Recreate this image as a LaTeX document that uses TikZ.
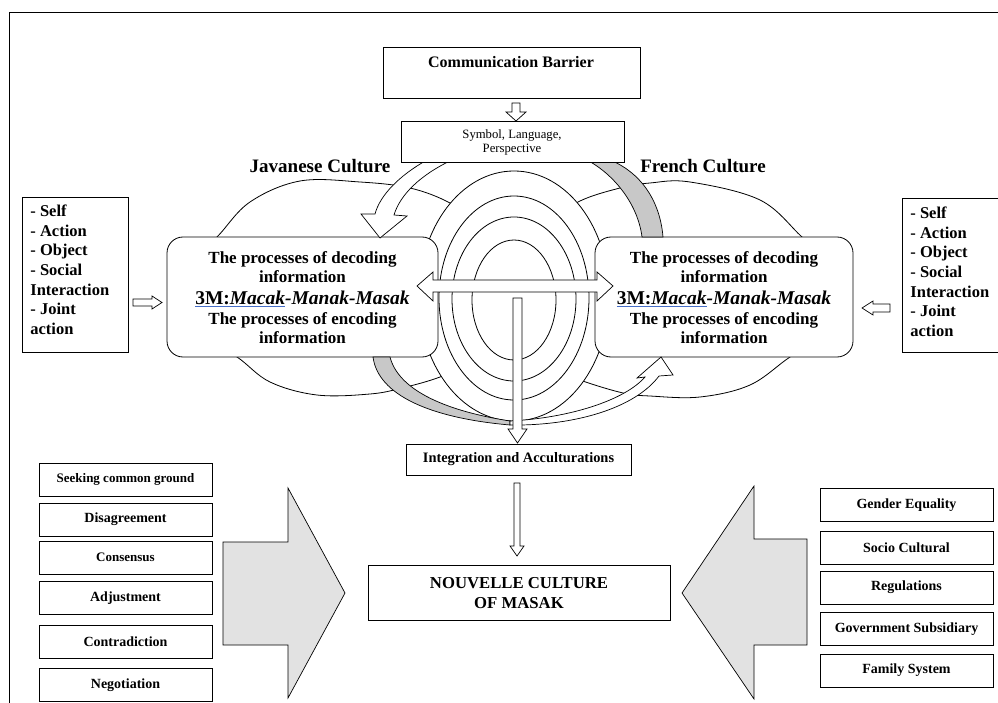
\documentclass[tikz,border=0pt]{standalone}
\usepackage{fontspec}
\setmainfont{Liberation Serif}
\usetikzlibrary{calc}
\definecolor{ulblue}{RGB}{70,110,200}
\definecolor{bigarrow}{RGB}{226,226,226}
\definecolor{bandgrey}{RGB}{200,200,200}
\newcommand\fs[1]{\fontsize{#1}{#1}\selectfont}
\newcommand\blueul[1]{\textcolor{ulblue}{\underline{\textcolor{black}{#1}}}}
\begin{document}
\begin{tikzpicture}[x=1pt,y=-1pt,line width=0.8pt,
  box/.style={draw, fill=white, inner sep=0pt, line width=0.8pt},
  rbox/.style={box, rounded corners=16pt},
  lbl/.style={inner sep=0pt, font=\bfseries},
  hollow/.style={draw, fill=white, line width=0.7pt, line join=miter},
  ring/.style={draw, line width=0.8pt},
  arc/.style={draw, line width=0.8pt},
  listtxt/.style={inner sep=0pt, anchor=base west, font=\bfseries\fs{16.5}},
  ptxt/.style={inner sep=0pt, anchor=base, font=\bfseries\fs{17}},
  mtxt/.style={inner sep=0pt, anchor=base, font=\bfseries\fs{19.5}},
  smallbox/.style={box, minimum width=173pt, minimum height=33pt, font=\bfseries\fs{14}},
]
\useasboundingbox (0,0) rectangle (998,703);
% frame
\draw[line width=0.9pt] (998,12) -- (9,12) -- (9,703);

% top boxes
\node[box, minimum width=257pt, minimum height=51pt] (cb) at (511.5,72.5) {};
\node[lbl, font=\bfseries\fs{16}] (cbt) at (511,62) {Communication Barrier};
\draw[hollow] (512,103) -- (520,103) -- (520,112) -- (526,112) -- (516,121) -- (506,112) -- (512,112) -- cycle;

% big ellipse arcs
\draw[arc] plot[smooth, tension=0.6] coordinates {(190,262) (217,237) (250,202) (300,181) (360,182) (410,188) (450,203) (480,225)};
\draw[arc] plot[smooth, tension=0.6] coordinates {(205,340) (237,357) (270,382) (317,395) (370,394) (402,388) (440,377) (470,362)};
\draw[arc] plot[smooth, tension=0.6] coordinates {(830,262) (802,237) (760,200) (690,182) (650,183) (620,188) (580,201) (550,222)};
\draw[arc] plot[smooth, tension=0.6] coordinates {(820,340) (790,357) (750,385) (700,397) (650,396) (623,393) (580,380) (555,368)};

% rings
\draw[ring, fill=white] (514,296) ellipse [x radius=95pt, y radius=125pt];
\draw[ring] (514,298) ellipse [x radius=75pt, y radius=102pt];
\draw[ring] (514,299) ellipse [x radius=62pt, y radius=82pt];
\draw[ring] (514,300) ellipse [x radius=42pt, y radius=60pt];

% rounded process boxes
\node[rbox, minimum width=271pt, minimum height=120pt] (lb) at (302.5,297) {};
\node[rbox, minimum width=258pt, minimum height=120pt] (rb) at (724,297) {};

% curved arrows
\draw[hollow] (427,160) .. controls (400,175) and (380,195) .. (375,214) -- (361,214) -- (380,238) -- (407,216) -- (394,215) .. controls (400,195) and (420,175) .. (452,160) -- cycle;
\draw[draw, fill=bandgrey, line width=0.7pt] (587,160) .. controls (615,175) and (638,205) .. (642,237) -- (663,237) .. controls (660,200) and (640,172) .. (610,160) -- cycle;
\draw[draw, fill=bandgrey, line width=0.7pt] (373,357) .. controls (378,395) and (430,418) .. (510,425) -- (510,421) .. controls (440,410) and (398,388) .. (390,357) -- cycle;
\draw[hollow] (510,421) .. controls (570,418) and (625,400) .. (645,377) -- (637,378) -- (661,357) -- (673,375) -- (659,376) .. controls (635,408) and (575,426) .. (510,425) -- cycle;

% symbol box
\node[box, minimum width=223pt, minimum height=41pt] (sb) at (512.5,141.5) {};
\node[inner sep=0pt, font=\fs{12.7}] (sb1) at (512,135) {Symbol, Language,};
\node[inner sep=0pt, font=\fs{12.7}] (sb2) at (512,150) {Perspective};

% culture titles
\node[lbl, font=\bfseries\fs{19}] (jav) at (320,166) {Javanese Culture};
\node[lbl, font=\bfseries\fs{19}] (fre) at (703,166) {French Culture};

% process box texts
\node[ptxt] (l1) at (302.5,264) {The processes of decoding};
\node[ptxt] (l2) at (302.5,283) {information};
\node[mtxt] (l3) at (302.5,305) {\blueul{3M:\textit{Macak}}\textit{-Manak-Masak}};
\node[ptxt] (l4) at (302.5,324) {The processes of encoding};
\node[ptxt] (l5) at (302.5,343) {information};
\node[ptxt] (r1) at (724,264) {The processes of decoding};
\node[ptxt] (r2) at (724,283) {information};
\node[mtxt] (r3) at (724,305) {\blueul{3M:\textit{Macak}}\textit{-Manak-Masak}};
\node[ptxt] (r4) at (724,324) {The processes of encoding};
\node[ptxt] (r5) at (724,343) {information};

% horizontal double arrow and vertical arrow
\draw[hollow] (417,286) -- (433,272) -- (433,280) -- (597,280) -- (597,272) -- (613,286) -- (597,301) -- (597,292) -- (433,292) -- (433,301) -- cycle;
\draw[hollow] (513,298) -- (522,298) -- (522,429) -- (527,429) -- (517.5,443) -- (508,429) -- (513,429) -- cycle;

% side lists
\node[box, minimum width=106pt, minimum height=155pt] (ll) at (75,274.5) {};
\foreach \t [count=\i] in {- Self,- Action,- Object,- Social,Interaction,- Joint,action}
  \node[listtxt] (llt\i) at (30,{217+19.5*(\i-1)}) {\t};
\node[box, minimum width=101pt, minimum height=154pt] (rl) at (952.5,275) {};
\foreach \t [count=\i] in {- Self,- Action,- Object,- Social,Interaction,- Joint,action}
  \node[listtxt] (rlt\i) at (910,{219+19.5*(\i-1)}) {\t};
\draw[hollow] (133,299) -- (152,299) -- (152,296) -- (162,302.5) -- (152,309) -- (152,306) -- (133,306) -- cycle;
\draw[hollow] (890,304) -- (873,304) -- (873,301) -- (862,308) -- (873,315) -- (873,312) -- (890,312) -- cycle;

% integration
\node[box, minimum width=225pt, minimum height=31pt, font=\bfseries\fs{14.4}] (ia) at (518.5,459.5) {Integration and Acculturations};
\draw[hollow] (514,483) -- (520,483) -- (520,546) -- (524,546) -- (517,556) -- (510,546) -- (514,546) -- cycle;

% nouvelle
\node[box, minimum width=302pt, minimum height=55pt] (nc) at (519,592.5) {};
\node[lbl, font=\bfseries\fs{16.7}] (nc1) at (519,583) {NOUVELLE CULTURE};
\node[lbl, font=\bfseries\fs{16.7}] (nc2) at (519,603) {OF MASAK};

% big arrows
\draw[draw, fill=bigarrow, line width=0.7pt] (223,542) -- (288,542) -- (288,488) -- (345,593) -- (288,698) -- (288,645) -- (223,645) -- cycle;
\draw[draw, fill=bigarrow, line width=0.7pt] (807,539) -- (754,539) -- (754,486) -- (682,593) -- (754,699) -- (754,645) -- (807,645) -- cycle;

% left factor boxes
\node[smallbox, font=\bfseries\fs{13}] (f1) at (125.5,479.5) {Seeking common ground};
\node[smallbox] (f2) at (125.5,519.5) {Disagreement};
\node[smallbox, font=\bfseries\fs{13}] (f3) at (125.5,557.5) {Consensus};
\node[smallbox] (f4) at (125.5,598) {Adjustment};
\node[smallbox] (f5) at (125.5,642) {Contradiction};
\node[smallbox] (f6) at (125.5,685) {Negotiation};

% right factor boxes
\node[smallbox] (g1) at (906.5,505) {Gender Equality};
\node[smallbox] (g2) at (906.5,547.5) {Socio Cultural};
\node[smallbox] (g3) at (906.5,587.5) {Regulations};
\node[smallbox] (g4) at (906.5,629) {Government Subsidiary};
\node[smallbox] (g5) at (906.5,670.5) {Family System};
\end{tikzpicture}
\end{document}
